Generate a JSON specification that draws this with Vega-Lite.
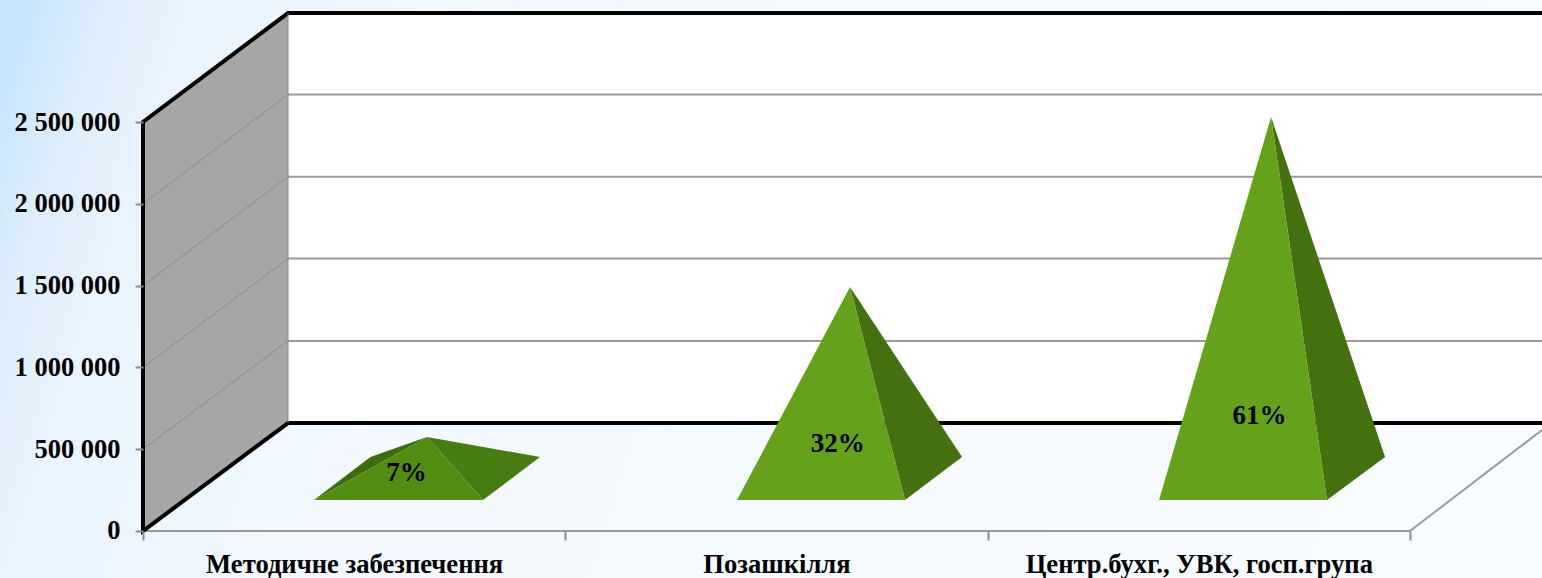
{
"$schema":"https://vega.github.io/schema/vega-lite/v6.json",
"width":1542,"height":578,"padding":0,"autosize":{"type":"none"},
"background":"#f6fbff",
"config":{"view":{"stroke":null},"font":"Liberation Serif"},
"datasets":{
"bg":[{"a":-0.3386,"b":3.3127,"c":-287300,"d":3245800}],
"polys":[
{"p":"panel","part":"panel","o":1,"x":0.3434,"y":660000},{"p":"panel","part":"panel","o":2,"x":3.3127,"y":660000},{"p":"panel","part":"panel","o":3,"x":3.3127,"y":3166000},{"p":"panel","part":"panel","o":4,"x":0.3434,"y":3166000},
{"p":"wall","part":"wall","o":1,"x":0,"y":0},{"p":"wall","part":"wall","o":2,"x":0.3434,"y":660000},{"p":"wall","part":"wall","o":3,"x":0.3434,"y":3166000},{"p":"wall","part":"wall","o":4,"x":0,"y":2500000}
],
"pyr":[
{"p":"a_back","part":"shallow back","o":1,"x":0.4049,"y":189500},{"p":"a_back","part":"shallow back","o":2,"x":0.5385,"y":452300},{"p":"a_back","part":"shallow back","o":3,"x":0.6725,"y":574600},
{"p":"a_side","part":"shallow side","o":1,"x":0.8051,"y":189500},{"p":"a_side","part":"shallow side","o":2,"x":0.9401,"y":452300},{"p":"a_side","part":"shallow side","o":3,"x":0.6725,"y":574600},
{"p":"a_front","part":"shallow front","o":1,"x":0.4049,"y":189500},{"p":"a_front","part":"shallow front","o":2,"x":0.8051,"y":189500},{"p":"a_front","part":"shallow front","o":3,"x":0.6725,"y":574600},
{"p":"b_side","part":"side","o":1,"x":1.8044,"y":189500},{"p":"b_side","part":"side","o":2,"x":1.9394,"y":452300},{"p":"b_side","part":"side","o":3,"x":1.6742,"y":1491500},
{"p":"b_front","part":"front","o":1,"x":1.4066,"y":189500},{"p":"b_front","part":"front","o":2,"x":1.8044,"y":189500},{"p":"b_front","part":"front","o":3,"x":1.6742,"y":1491500},
{"p":"c_side","part":"side","o":1,"x":2.8037,"y":189500},{"p":"c_side","part":"side","o":2,"x":2.941,"y":452300},{"p":"c_side","part":"side","o":3,"x":2.6711,"y":2530600},
{"p":"c_front","part":"front","o":1,"x":2.4059,"y":189500},{"p":"c_front","part":"front","o":2,"x":2.8037,"y":189500},{"p":"c_front","part":"front","o":3,"x":2.6711,"y":2530600}
],
"lines":[
{"s":"wg1","k":"wallgrid","o":1,"x":0,"y":500000},{"s":"wg1","k":"wallgrid","o":2,"x":0.3434,"y":1162000},
{"s":"wg2","k":"wallgrid","o":1,"x":0,"y":1000000},{"s":"wg2","k":"wallgrid","o":2,"x":0.3434,"y":1665000},
{"s":"wg3","k":"wallgrid","o":1,"x":0,"y":1500000},{"s":"wg3","k":"wallgrid","o":2,"x":0.3434,"y":2166000},
{"s":"wg4","k":"wallgrid","o":1,"x":0,"y":2000000},{"s":"wg4","k":"wallgrid","o":2,"x":0.3434,"y":2668000},
{"s":"bg1","k":"grid","o":1,"x":0.3434,"y":1162000},{"s":"bg1","k":"grid","o":2,"x":3.3127,"y":1162000},
{"s":"bg2","k":"grid","o":1,"x":0.3434,"y":1665000},{"s":"bg2","k":"grid","o":2,"x":3.3127,"y":1665000},
{"s":"bg3","k":"grid","o":1,"x":0.3434,"y":2166000},{"s":"bg3","k":"grid","o":2,"x":3.3127,"y":2166000},
{"s":"bg4","k":"grid","o":1,"x":0.3434,"y":2668000},{"s":"bg4","k":"grid","o":2,"x":3.3127,"y":2668000},
{"s":"floor","k":"grid","o":1,"x":0,"y":0},{"s":"floor","k":"grid","o":2,"x":3,"y":0},{"s":"floor","k":"grid","o":3,"x":3.3127,"y":617000},
{"s":"outline","k":"frame","o":1,"x":3.3127,"y":660000},{"s":"outline","k":"frame","o":2,"x":0.3434,"y":660000},{"s":"outline","k":"frame","o":3,"x":0,"y":0},{"s":"outline","k":"frame","o":4,"x":0,"y":2500000},{"s":"outline","k":"frame","o":5,"x":0.3434,"y":3166000},{"s":"outline","k":"frame","o":6,"x":3.3127,"y":3166000},
{"s":"inner","k":"wallgrid","o":1,"x":0.3434,"y":660000},{"s":"inner","k":"wallgrid","o":2,"x":0.3434,"y":3166000}
],
"labels":[
{"x":0.6238,"y":354000,"t":"7%"},{"x":1.6452,"y":531000,"t":"32%"},{"x":2.644,"y":702000,"t":"61%"}
]
},
"layer":[
{"data":{"name":"bg"},
 "mark":{"type":"rect","color":{"gradient":"linear","x1":0,"y1":0.2,"x2":1,"y2":0.32,"stops":[{"offset":0,"color":"#c9e5fb"},{"offset":0.04,"color":"#dcedfc"},{"offset":0.1,"color":"#e9f4fe"},{"offset":0.3,"color":"#f3f9fe"},{"offset":1,"color":"#f8fbff"}]}},
 "encoding":{
  "x":{"field":"a","type":"quantitative","scale":{"domain":[-0.3386,3.3127],"nice":false,"zero":false},
   "axis":{"orient":"bottom","offset":-47,"values":[0,0.5,1,1.5,2,2.5,3],"domain":false,"grid":false,"title":null,"zindex":1,"tickSize":9,"tickWidth":2,"tickColor":"#8c8c8c",
    "tickOpacity":{"condition":{"test":"datum.value % 1 === 0","value":1},"value":0},
    "labelExpr":"datum.value === 0.5 ? 'Методичне забезпечення' : datum.value === 1.5 ? 'Позашкілля' : datum.value === 2.5 ? 'Центр.бухг., УВК, госп.група' : ''",
    "labelFont":"Liberation Serif","labelFontWeight":"bold","labelFontSize":26.6,"labelColor":"#000000","labelPadding":11,"labelOverlap":false,"labelFlush":false,"labelBound":false,"labelLimit":600}},
  "x2":{"field":"b"},
  "y":{"field":"c","type":"quantitative","scale":{"domain":[-287300,3245800],"nice":false,"zero":false},
   "axis":{"orient":"left","offset":-143,"values":[0,500000,1000000,1500000,2000000,2500000],"domain":false,"grid":false,"title":null,"zindex":1,"tickSize":8,"tickWidth":2,"tickColor":"#8c8c8c",
    "labelExpr":"replace(format(datum.value, ','), /,/g, ' ')",
    "labelFont":"Liberation Serif","labelFontWeight":"bold","labelFontSize":26.5,"labelColor":"#000000","labelPadding":15,"labelOverlap":false,"labelBound":false,"labelLimit":300}},
  "y2":{"field":"d"}}},
{"data":{"name":"polys"},
 "mark":{"type":"line","strokeWidth":0,"interpolate":"linear-closed"},
 "encoding":{
  "x":{"field":"x","type":"quantitative"},"y":{"field":"y","type":"quantitative"},
  "detail":{"field":"p"},"order":{"field":"o"},
  "fill":{"field":"part","type":"nominal","legend":null,"scale":{"domain":["panel","wall"],"range":["#ffffff","#a6a6a6"]}}}},
{"data":{"name":"lines"},
 "mark":{"type":"line"},
 "encoding":{
  "x":{"field":"x","type":"quantitative"},"y":{"field":"y","type":"quantitative"},
  "detail":{"field":"s"},"order":{"field":"o"},
  "stroke":{"field":"k","type":"nominal","legend":null,"scale":{"domain":["wallgrid","grid","frame"],"range":["#8a8a8a","#9a9a9a","#000000"]}},
  "strokeWidth":{"field":"k","type":"nominal","legend":null,"scale":{"type":"ordinal","domain":["wallgrid","grid","frame"],"range":[1,2,4]}}}},
{"data":{"name":"pyr"},
 "mark":{"type":"line","strokeWidth":0,"interpolate":"linear-closed"},
 "encoding":{
  "x":{"field":"x","type":"quantitative"},"y":{"field":"y","type":"quantitative"},
  "detail":{"field":"p"},"order":{"field":"o"},
  "fill":{"field":"part","type":"nominal","legend":null,"scale":{"domain":["front","side","shallow front","shallow side","shallow back"],"range":["#66a11c","#44700f","#528c10","#467c12","#3d6b10"]}}}},
{"data":{"name":"labels"},
 "mark":{"type":"text","font":"Liberation Serif","fontWeight":"bold","fontSize":27,"color":"#000000","align":"center","baseline":"middle"},
 "encoding":{"x":{"field":"x","type":"quantitative"},"y":{"field":"y","type":"quantitative"},"text":{"field":"t"}}}
],
"resolve":{"scale":{"fill":"independent"}}
}
